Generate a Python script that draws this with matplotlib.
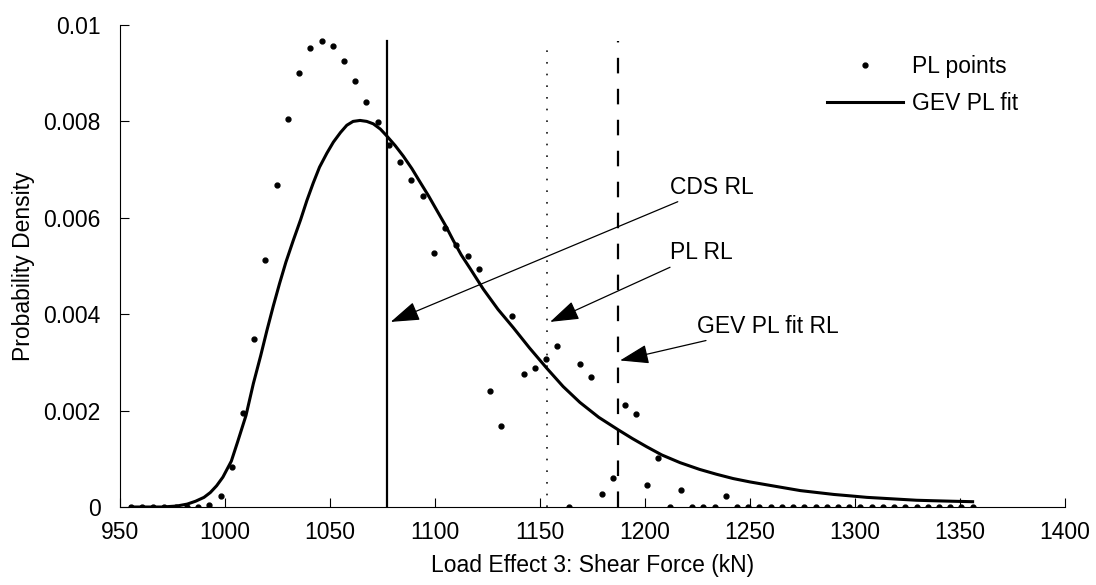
import numpy as np
import matplotlib
matplotlib.use('Agg')
import matplotlib.pyplot as plt

plt.rcParams['font.family'] = ['Liberation Sans', 'DejaVu Sans']
plt.rcParams['font.size'] = 16.5
plt.rcParams['lines.scale_dashes'] = False

# PL points (histogram-style density points)
pl_x = [955.1, 960.4, 965.8, 971.1, 976.5, 981.8, 987.2, 992.5, 997.9, 1003.2,
        1008.5, 1013.9, 1019.2, 1024.6, 1029.9, 1035.3, 1040.6, 1046.0, 1051.3, 1056.7,
        1062.0, 1067.3, 1072.7, 1078.0, 1083.4, 1088.7, 1094.1, 1099.4, 1104.8, 1110.1,
        1115.5, 1120.8, 1126.1, 1131.5, 1136.8, 1142.2, 1147.5, 1152.9, 1158.2, 1163.6,
        1168.9, 1174.3, 1179.6, 1184.9, 1190.3, 1195.6, 1201.0, 1206.3, 1211.7, 1217.0,
        1222.4, 1227.7, 1233.1, 1238.4, 1243.7, 1249.1, 1254.4, 1259.8, 1265.1, 1270.5,
        1275.8, 1281.2, 1286.5, 1291.9, 1297.2, 1302.5, 1307.9, 1313.2, 1318.6, 1323.9,
        1329.3, 1334.6, 1340.0, 1345.3, 1350.7, 1356.0]
pl_y = [0, 0, 0, 0, 0, 0, 0, 0.00004, 0.00023, 0.00083,
        0.00196, 0.00349, 0.00513, 0.00669, 0.00804, 0.00900, 0.00953, 0.00966, 0.00956, 0.00925,
        0.00883, 0.00841, 0.00798, 0.00752, 0.00716, 0.00679, 0.00645, 0.00526, 0.00579, 0.00544,
        0.00520, 0.00493, 0.00240, 0.00168, 0.00396, 0.00275, 0.00289, 0.00307, 0.00334, 0,
        0.00297, 0.00270, 0.00026, 0.00060, 0.00212, 0.00192, 0.00046, 0.00101, 0, 0.00036,
        0, 0, 0, 0.00023, 0, 0, 0, 0, 0, 0,
        0, 0, 0, 0, 0, 0, 0, 0, 0, 0,
        0, 0, 0, 0, 0, 0]

# GEV fit curve
gev_x = [955, 970, 977, 982, 986, 990, 993, 996, 999, 1003,
         1006, 1010, 1013.5, 1017, 1020, 1023, 1026, 1029, 1032.5, 1036,
         1039, 1042, 1045, 1048.5, 1051.6, 1055, 1058, 1061, 1064.3, 1067.5,
         1070.6, 1074, 1077, 1081, 1084.9, 1089, 1092.9, 1097, 1100.8, 1105,
         1108.7, 1112.5, 1116.7, 1123, 1130, 1137.3, 1145, 1153.2, 1161, 1169,
         1178, 1187.3, 1194, 1200.8, 1208, 1216.7, 1226, 1234, 1242, 1250,
         1258, 1266, 1274, 1282, 1290, 1298, 1305.6, 1313.5, 1321.4, 1329.3,
         1337.3, 1346, 1356]
gev_y = [0, 0, 0.00002, 0.00006, 0.00012, 0.00020, 0.00030, 0.00044, 0.00062, 0.00095,
         0.00135, 0.00190, 0.00256, 0.00314, 0.00367, 0.00417, 0.00464, 0.00508, 0.00553, 0.00596,
         0.00636, 0.00672, 0.00705, 0.00734, 0.00757, 0.00777, 0.00792, 0.00800, 0.00802, 0.00800,
         0.00795, 0.00784, 0.00770, 0.00750, 0.00728, 0.00702, 0.00674, 0.00645, 0.00616, 0.00584,
         0.00553, 0.00523, 0.00495, 0.00452, 0.00410, 0.00372, 0.00330, 0.00288, 0.00250, 0.00217,
         0.00186, 0.00160, 0.00142, 0.00125, 0.00108, 0.00092, 0.00078, 0.00068, 0.00059, 0.00052,
         0.00046, 0.00040, 0.00034, 0.00030, 0.00026, 0.00023, 0.00020, 0.00018, 0.00016, 0.00014,
         0.00013, 0.00012, 0.00011]

# return levels
cds_rl = 1077.0
pl_rl = 1153.2
gev_rl = 1187.1

# annotation labels: (text, text pos, arrow tip)
labels = ['CDS RL', 'PL RL', 'GEV PL fit RL']
label_xy = [(1211.9, 0.00663), (1211.9, 0.00527), (1224.6, 0.00375)]
tip_xy = [(1078.9, 0.00384), (1154.8, 0.00384), (1188.1, 0.00304)]

fig = plt.figure(figsize=(10.96, 5.85), dpi=100)
ax = fig.add_axes([120/1096, 1-507/585, 945/1096, 482/585])

ax.plot(pl_x, pl_y, 'k.', markersize=7, label='PL points')
ax.plot(gev_x, gev_y, 'k-', linewidth=2.2, label='GEV PL fit')

top = max(pl_y)
ax.plot([cds_rl, cds_rl], [0, top], 'k-', linewidth=1.6)
ax.plot([pl_rl, pl_rl], [0, top], color='k', linewidth=1.1, dashes=(1.2, 7.2))
ax.plot([gev_rl, gev_rl], [0, top], color='k', linewidth=1.6, dashes=(11.2, 11.1))

for txt, xy_t, xy_a in zip(labels, label_xy, tip_xy):
    ax.annotate(txt, xy=xy_a, xytext=xy_t, ha='left', va='center',
                arrowprops=dict(arrowstyle='-|>,head_length=0.9,head_width=0.3',
                                color='k', lw=0.9, shrinkA=0, shrinkB=0,
                                mutation_scale=20))

ax.set_xlim(950, 1400)
ax.set_ylim(0, 0.01)
ax.set_xticks(np.arange(950, 1401, 50))
ax.set_yticks([0, 0.002, 0.004, 0.006, 0.008, 0.01])
ax.set_yticklabels(['0', '0.002', '0.004', '0.006', '0.008', '0.01'])
ax.tick_params(direction='in', length=6.5, width=0.8)
ax.tick_params(axis='y', pad=14)
ax.tick_params(axis='x', pad=10)
for s in ['top', 'right']:
    ax.spines[s].set_visible(False)
for s in ['left', 'bottom']:
    ax.spines[s].set_linewidth(0.8)

ax.set_xlabel('Load Effect 3: Shear Force (kN)', labelpad=7)
ax.set_ylabel('Probability Density', labelpad=6)

ax.legend(loc='upper left', bbox_to_anchor=(827/1096, 1-55/585),
          bbox_transform=fig.transFigure, frameon=False, borderpad=0,
          borderaxespad=0, handlelength=3.3, handletextpad=0.4, labelspacing=0.62)

fig.savefig('out.png', dpi=100)
